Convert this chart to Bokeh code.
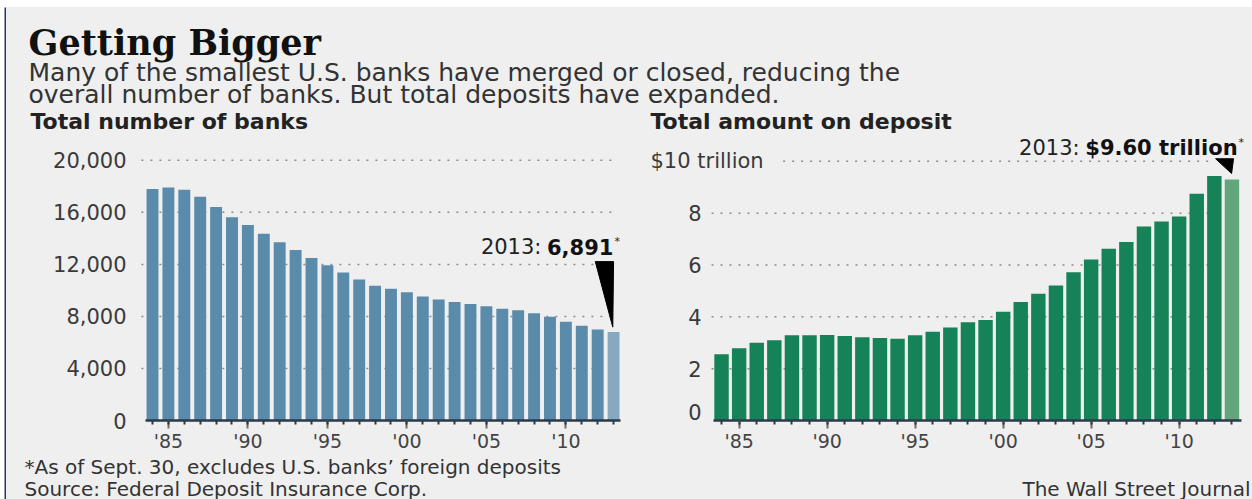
from bokeh.plotting import figure
from bokeh.layouts import column, row
from bokeh.models import Range1d, FixedTicker, ColumnDataSource, Spacer
from bokeh.core.properties import value
from bokeh.embed import file_html
from bokeh.resources import INLINE

# ---------------- data ----------------
years = list(range(1984, 2014))
banks = [17790, 17920, 17740, 17210, 16420, 15630, 15030, 14350, 13700, 13100,
         12500, 11930, 11370, 10840, 10360, 10130, 9850, 9540, 9310, 9110,
         8960, 8780, 8600, 8480, 8250, 7970, 7590, 7280, 7000, 6800]
deposits = [2.56, 2.79, 3.00, 3.10, 3.29, 3.29, 3.30, 3.26, 3.21, 3.18,
            3.15, 3.29, 3.42, 3.59, 3.79, 3.88, 4.20, 4.57, 4.89, 5.21,
            5.72, 6.21, 6.63, 6.89, 7.49, 7.68, 7.87, 8.75, 9.43, 9.30]

x_ticks = [1985, 1990, 1995, 2000, 2005, 2010]
x_tick_labels = ["'85", "'90", "'95", "'00", "'05", "'10"]
bank_ticks = [0, 4000, 8000, 12000, 16000, 20000]
bank_tick_labels = ["0", "4,000", "8,000", "12,000", "16,000", "20,000"]
dep_ticks = [0, 2, 4, 6, 8, 10]
dep_tick_labels = ["0", "2", "4", "6", "8", "$10 trillion"]

bank_note = ("2013:", "6,891", "*")
dep_note = ("2013:", "$9.60 trillion", "*")

title = "Getting Bigger"
subtitle = ["Many of the smallest U.S. banks have merged or closed, reducing the",
            "overall number of banks. But total deposits have expanded."]
left_title = "Total number of banks"
right_title = "Total amount on deposit"
footnote = "*As of Sept. 30, excludes U.S. banks\u2019 foreign deposits"
source = "Source: Federal Deposit Insurance Corp."
credit = "The Wall Street Journal"

# ---------------- style ----------------
BG = "#efefef"
NAVY = "#2b3466"
SANS = "DejaVu Sans"
SERIF = "DejaVu Serif"
BLUE = "#5a8bab"
BLUE_LAST = "#86a9c1"
GREEN = "#168257"
GREEN_LAST = "#62a77c"
AXIS = "#2b3a48"
LABEL = "#3a3a3a"


def plain(w, h, color=BG):
    f = figure(width=w, height=h, x_range=Range1d(0, w), y_range=Range1d(h, 0),
               x_axis_type=None, y_axis_type=None, min_border=0,
               output_backend="svg", toolbar_location=None,
               background_fill_color=color, border_fill_color=color,
               outline_line_color=None)
    return f


def gridlines(p, ticks, x0, x1):
    n = len(ticks)
    p.segment(x0=[x0] * n, y0=ticks, x1=[x1] * n, y1=ticks,
              line_color="#8c8c8c", line_dash="2 7", line_width=1.5)


def chart(width, xr, yr, mbl, mbr, with_yaxis):
    p = figure(width=width, height=317, x_range=xr, y_range=yr,
               min_border_left=mbl, min_border_right=mbr,
               min_border_top=0, min_border_bottom=32,
               y_axis_type="linear" if with_yaxis else None,
               output_backend="svg", toolbar_location=None,
               background_fill_color=BG, border_fill_color=BG,
               outline_line_color=None)
    p.xgrid.visible = False
    if with_yaxis:
        p.ygrid.visible = False
    xa = p.xaxis[0]
    xa.ticker = FixedTicker(ticks=x_ticks, minor_ticks=years)
    xa.major_label_overrides = dict(zip(x_ticks, x_tick_labels))
    xa.axis_line_color = AXIS
    xa.axis_line_width = 2.5
    xa.major_tick_out = 8
    xa.major_tick_in = 0
    xa.major_tick_line_color = "#6a6a6a"
    xa.major_tick_line_width = 2
    xa.minor_tick_out = 4
    xa.minor_tick_in = 0
    xa.minor_tick_line_color = AXIS
    xa.minor_tick_line_width = 2
    xa.major_label_standoff = 1
    xa.major_label_text_font = SANS
    xa.major_label_text_font_size = "19px"
    xa.major_label_text_color = "#444444"
    return p


def bars(p, vals, colors, bar_width):
    src = ColumnDataSource(dict(x=years, top=vals, color=colors))
    p.vbar(x="x", top="top", width=bar_width, bottom=0, source=src,
           fill_color="color", line_color=None)


def note(p, x, y, parts, bold_w):
    p.text(x=[x], y=[y], text=[parts[1]], text_align="right", text_baseline="alphabetic",
           text_font=value(SANS), text_font_style="bold", text_font_size="21px",
           text_color="#111111")
    p.text(x=[x], y=[y], text=[parts[0]], text_align="right", text_baseline="alphabetic",
           x_offset=-bold_w, text_font=value(SANS), text_font_size="21px",
           text_color="#222222")
    p.text(x=[x], y=[y], text=[parts[2]], text_align="left", text_baseline="alphabetic",
           x_offset=1, y_offset=-5, text_font=value(SANS), text_font_size="11px",
           text_color="#222222")


# ---------------- left chart ----------------
bank_colors = [BLUE] * (len(years) - 1) + [BLUE_LAST]
left = chart(620, Range1d(1983.245, 2013.75), Range1d(0, 21756), 134, 1, True)
ya = left.yaxis[0]
ya.ticker = FixedTicker(ticks=bank_ticks)
ya.major_label_overrides = dict(zip(bank_ticks, bank_tick_labels))
ya.axis_line_color = None
ya.major_tick_line_color = None
ya.minor_tick_line_color = None
ya.major_label_standoff = 8
ya.major_label_text_font = SANS
ya.major_label_text_font_size = "21px"
ya.major_label_text_color = LABEL
left.xaxis[0].bounds = (1983.56, 2013.43)
gridlines(left, bank_ticks[1:], 1983.30, 2012.97)
bars(left, banks, bank_colors, 0.75)
ly, lv = years[-1], banks[-1]
left.patch(x=[ly - 1.15, ly, ly - 0.05], y=[12214, 12214, lv + 376],
           fill_color="black", line_color="black")
note(left, ly - 0.01, 13360, bank_note, 72)

# ---------------- right chart ----------------
dep_colors = [GREEN] * (len(years) - 1) + [GREEN_LAST]
x0_right = 1979.68
right = chart(626, Range1d(x0_right, 2013.94), Range1d(0, 10.92), 19, 4, False)
right.xaxis[0].bounds = (1983.57, 2013.55)
gridlines(right, dep_ticks[1:-1], 1983.43, 2011.95)
gridlines(right, dep_ticks[-1:], 1987.5, 2011.95)
bars(right, deposits, dep_colors, 0.82)
# y tick labels (right-aligned numbers, the top one running into the plot)
right.text(x=[x0_right] * (len(dep_ticks) - 2), y=dep_ticks[1:-1], text=dep_tick_labels[1:-1],
           x_offset=56, text_align="right", text_baseline="alphabetic",
           text_font=value(SANS), text_font_size="21px", text_color=LABEL)
right.text(x=[x0_right], y=dep_ticks[:1], text=dep_tick_labels[:1],
           x_offset=56, y_offset=-9, text_align="right", text_baseline="alphabetic",
           text_font=value(SANS), text_font_size="21px", text_color=LABEL)
right.text(x=[x0_right], y=[dep_ticks[-1]], text=[dep_tick_labels[-1]], x_offset=5,
           text_align="left", text_baseline="alphabetic", text_font=value(SANS),
           text_font_size="21px", text_color=LABEL)
ry, rv = years[-1], deposits[-1]
right.patch(x=[ry - 0.93, ry + 0.09, ry - 0.02], y=[10.10, 10.10, rv + 0.23],
            fill_color="black", line_color="black")
note(right, ry + 0.32, 10.53, dep_note, 158)

# ---------------- header ----------------
header = plain(1246, 130)
header.text(x=[22], y=[35], text=[title], text_font=value(SERIF), text_font_style="bold",
            text_font_size="35px", text_color="#111111", text_baseline="alphabetic")
header.text(x=[22, 22], y=[65, 87], text=subtitle, text_font=value(SANS),
            text_font_size="25px", text_color="#333333", text_baseline="alphabetic")
header.text(x=[24, 644], y=[114, 114], text=[left_title, right_title], text_font=value(SANS),
            text_font_style="bold", text_font_size="22px", text_color="#222222",
            text_baseline="alphabetic")

# ---------------- footer ----------------
footer = plain(1246, 45)
footer.text(x=[18, 18], y=[12, 34], text=[footnote, source], text_font=value(SANS),
            text_font_size="20px", text_color="#333333", text_baseline="alphabetic")
footer.text(x=[1244], y=[34], text=[credit], text_font=value(SANS),
            text_font_size="20px", text_color="#333333", text_baseline="alphabetic",
            text_align="right")

# ---------------- frame lines & layout ----------------
top_line = plain(1248, 2, NAVY)
left_line = plain(2, 492, NAVY)

charts = row(left, right, styles={"background-color": BG})
body = column(header, charts, footer, styles={"background-color": BG})
root = column(
    Spacer(width=1252, height=5),
    row(Spacer(width=4, height=2), top_line),
    row(Spacer(width=4, height=492), left_line, body),
)

open("out.html", "w").write(file_html(root, INLINE))
